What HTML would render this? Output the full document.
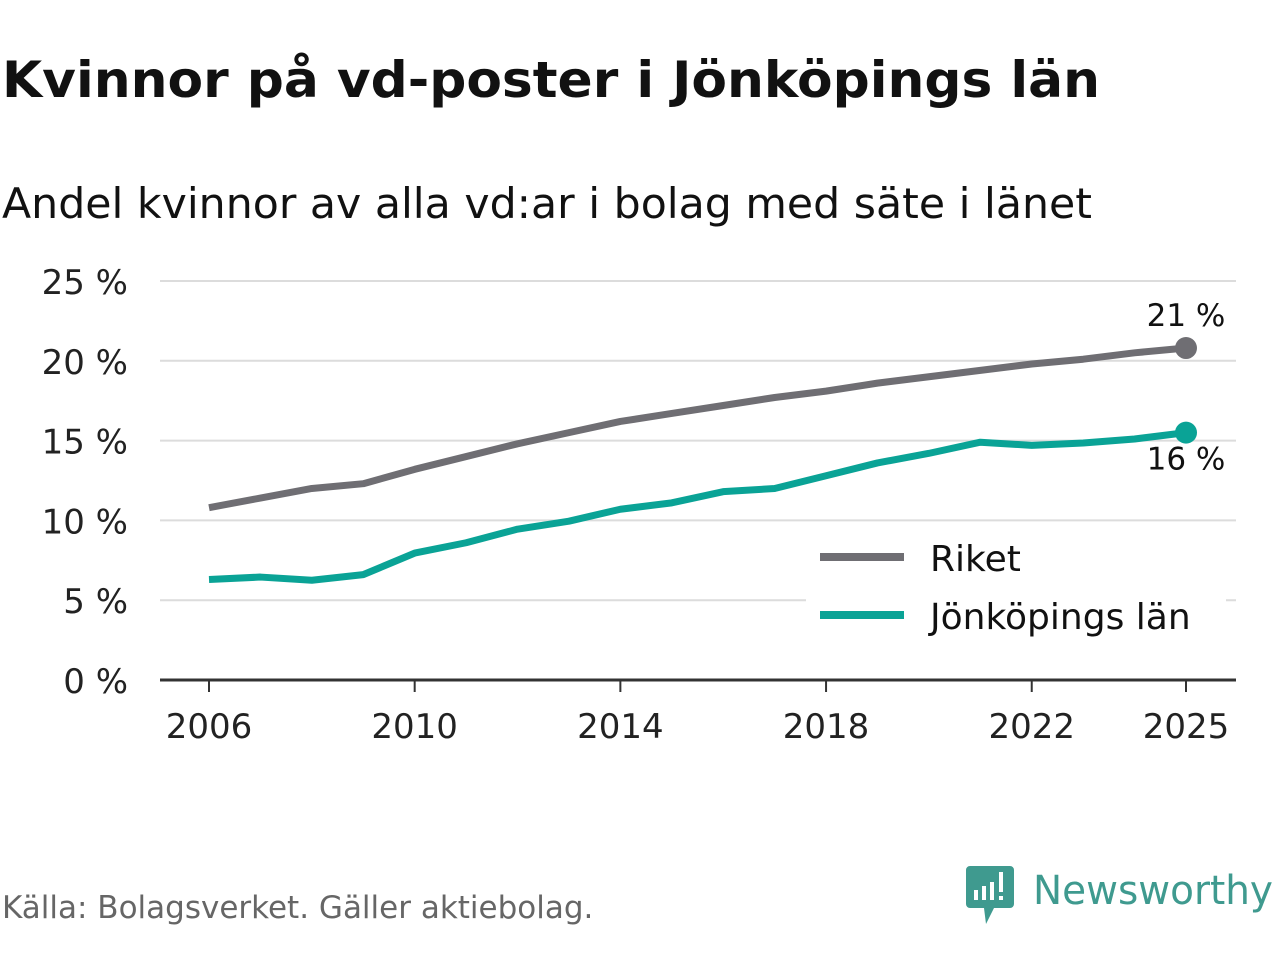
<!DOCTYPE html>
<html><head><meta charset="utf-8"><style>
body{margin:0;width:1280px;height:960px;background:#fff;overflow:hidden;font-family:"DejaVu Sans","Liberation Sans",sans-serif}
svg text{font-family:"DejaVu Sans","Liberation Sans",sans-serif}
</style></head><body>
<svg width="1280" height="960">
<text x="2" y="97" font-size="50" font-weight="bold" fill="#111" textLength="1098" lengthAdjust="spacingAndGlyphs">Kvinnor på vd-poster i Jönköpings län</text>
<text x="2" y="218" font-size="42" fill="#111" textLength="1090" lengthAdjust="spacingAndGlyphs">Andel kvinnor av alla vd:ar i bolag med säte i länet</text>
<g id="grid"></g><g id="axes"></g><g id="lines"></g>
<rect x="806" y="530" width="420" height="120" fill="#fff"/>
<line x1="820" y1="557" x2="904" y2="557" stroke="#6f6e73" stroke-width="8"/>
<text x="930" y="571" font-size="36" fill="#111">Riket</text>
<line x1="820" y1="615" x2="904" y2="615" stroke="#0aa396" stroke-width="8"/>
<text x="930" y="629" font-size="36" fill="#111">Jönköpings län</text>
<text x="2" y="918" font-size="31" fill="#666">Källa: Bolagsverket. Gäller aktiebolag.</text>
<g>
<path d="M970 866 h40 a4 4 0 0 1 4 4 v34 a4 4 0 0 1 -4 4 h-16 l-8 16 l-2 -16 h-14 a4 4 0 0 1 -4 -4 v-34 a4 4 0 0 1 4 -4z" fill="#3f9a8f"/>
<rect x="974" y="890" width="4" height="10" fill="#fff"/><rect x="982" y="886" width="4" height="14" fill="#fff"/><rect x="990" y="882" width="4" height="18" fill="#fff"/><rect x="999" y="872" width="4" height="20" fill="#fff"/><rect x="999" y="896" width="4" height="4" fill="#fff"/>
<text x="1033" y="904" font-size="40" fill="#3f9a8f" font-weight="500" textLength="240" lengthAdjust="spacingAndGlyphs">Newsworthy</text>
</g>
</svg>
<script>
const years=[2006,2007,2008,2009,2010,2011,2012,2013,2014,2015,2016,2017,2018,2019,2020,2021,2022,2023,2024,2025];
const riket=[10.8,11.4,12.0,12.3,13.2,14.0,14.8,15.5,16.2,16.7,17.2,17.7,18.1,18.6,19.0,19.4,19.8,20.1,20.5,20.8];
const jonkoping=[6.3,6.45,6.25,6.6,7.95,8.6,9.45,9.95,10.7,11.1,11.8,12.0,12.8,13.6,14.2,14.9,14.7,14.85,15.1,15.5];
const yTicks=[0,5,10,15,20,25];
const xTicks=[2006,2010,2014,2018,2022,2025];
const NS="http://www.w3.org/2000/svg";
const x=v=>209+(v-2006)*(1186-209)/19;
const y=v=>680-v*(680-281)/25;
function mk(tag,attrs,parent,txt){const e=document.createElementNS(NS,tag);for(const k in attrs)e.setAttribute(k,attrs[k]);if(txt!==undefined)e.textContent=txt;document.getElementById(parent).appendChild(e);return e;}
yTicks.forEach(t=>{
 if(t>0){const l=mk('line',{x1:160,x2:1236,y1:y(t),y2:y(t),stroke:'#dcdcdc','stroke-width':2},'grid');
 
 }
 const tx=mk('text',{x:128,y:y(t)+13,'font-size':34,fill:'#222','text-anchor':'end'},'axes',t+' %');
 
 
});
const ax=mk('line',{x1:160,x2:1236,y1:680,y2:680,stroke:'#333','stroke-width':3},'axes');


xTicks.forEach(t=>{
 const tk=mk('line',{x1:x(t),x2:x(t),y1:680,y2:692,stroke:'#333','stroke-width':2},'axes');
 
 
 const tx=mk('text',{x:x(t),y:738,'font-size':34,fill:'#222','text-anchor':'middle'},'axes',String(t));
 
 
});
function series(vals,color,name,labDy){
 const p=mk('polyline',{points:vals.map((v,i)=>x(years[i])+','+y(v)).join(' '),fill:'none',stroke:color,'stroke-width':7,'stroke-linejoin':'round'},'lines');
 
 
 const n=vals.length-1;
 const c=mk('circle',{cx:x(years[n]),cy:y(vals[n]),r:11,fill:color},'lines');
 
 
 const t=mk('text',{x:x(years[n]),y:y(vals[n])+labDy,'font-size':31,fill:'#111','text-anchor':'middle'},'lines',Math.round(vals[n])+' %');
 
 
}
series(riket,'#6f6e73','riket',-22);
series(jonkoping,'#0aa396','jonkoping',37);
</script>
</body></html>
